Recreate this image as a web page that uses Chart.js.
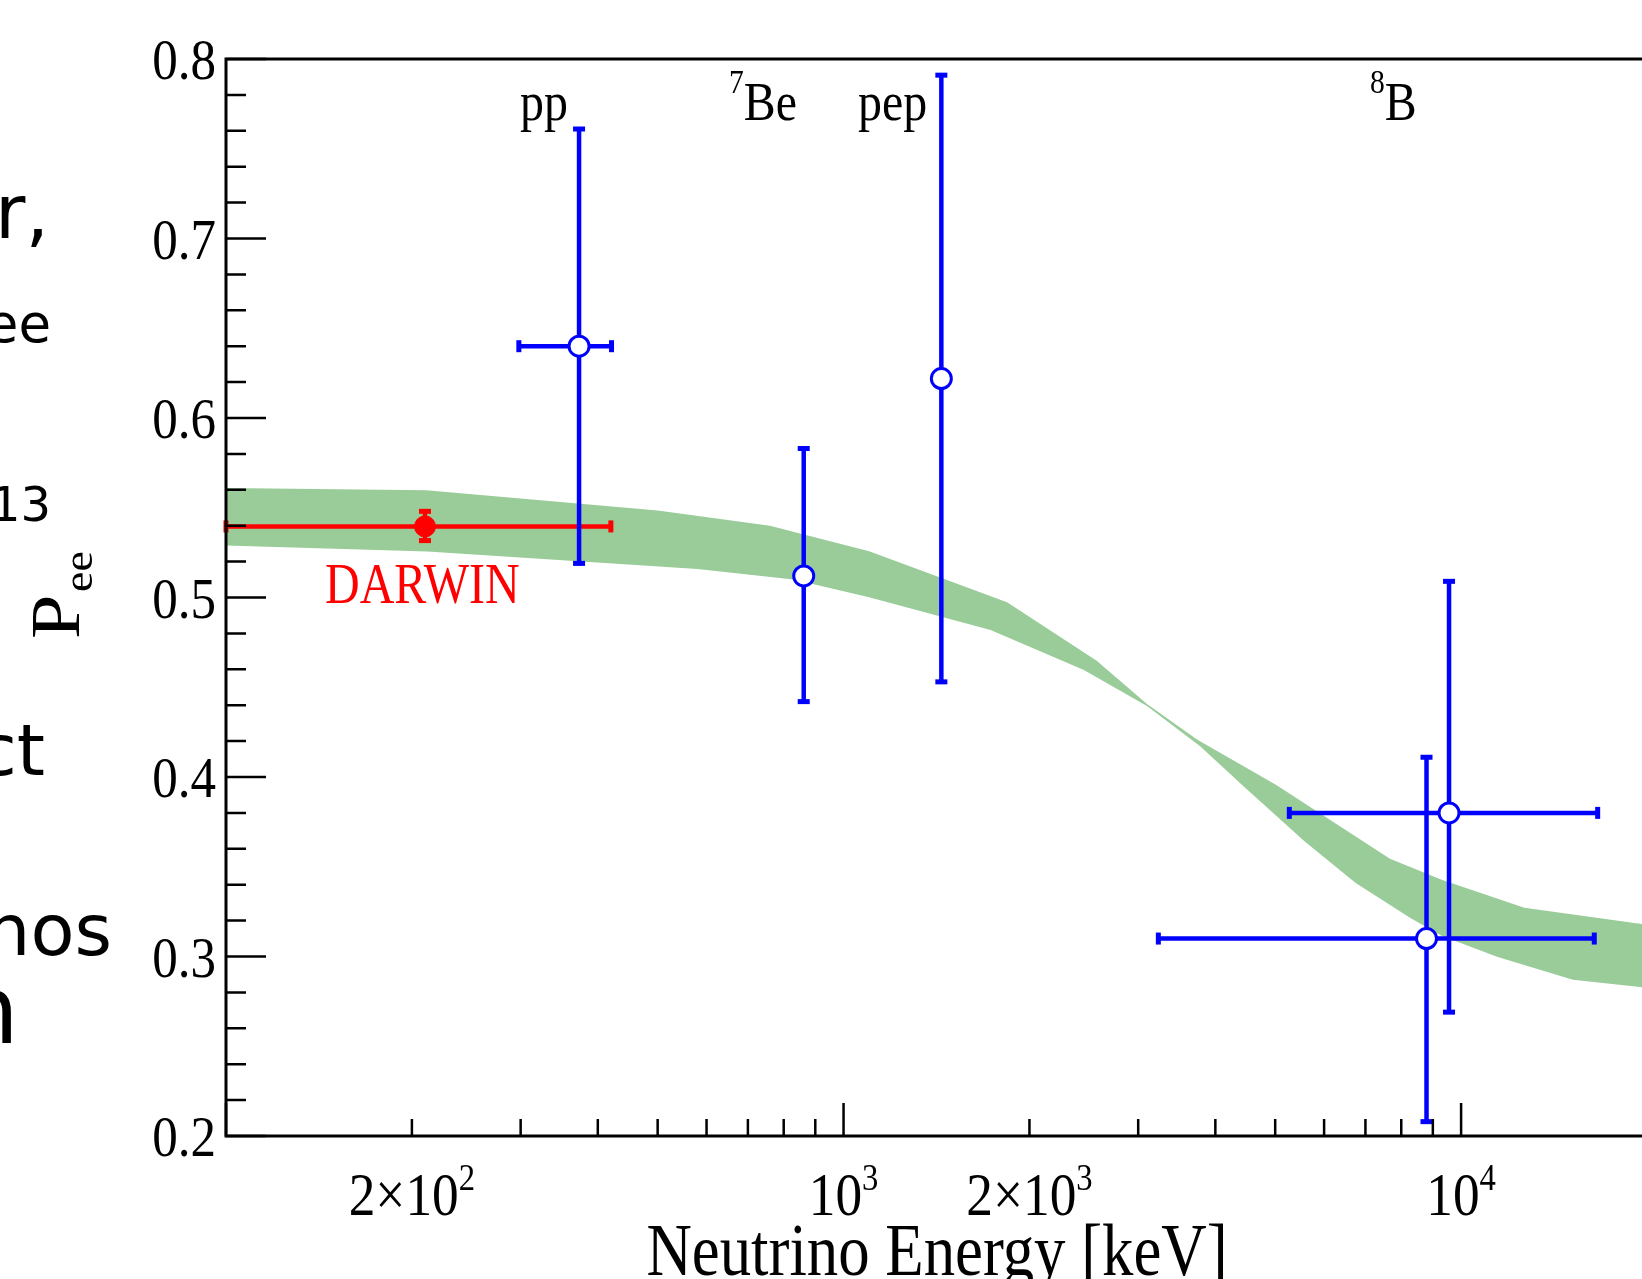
<!DOCTYPE html>
<html>
<head>
<meta charset="utf-8">
<script src="https://cdn.jsdelivr.net/npm/chart.js@4.4.1/dist/chart.umd.min.js"></script>
<style>
  html, body { margin: 0; padding: 0; background: #fff; overflow: hidden; width: 1642px; height: 1279px; }
  #c { position: absolute; left: 0; top: 0; }
</style>
</head>
<body>
<canvas id="c" width="1660" height="1279" style="width:1660px;height:1279px"></canvas>
<script>
// ---------------- data ----------------
// LMA prediction band (edges)
const bandUpperE = [100, 211, 500, 760, 1100, 1840, 2570, 3100, 3730, 5020, 5780, 7670, 9300, 12660, 20000];
const bandUpperP = [0.561, 0.5597, 0.5485, 0.540, 0.5257, 0.4973, 0.4648, 0.4406, 0.421, 0.3956, 0.3819, 0.3545, 0.3428, 0.3271, 0.3177];
const bandLowerE = [100, 212, 580, 830, 1100, 1730, 2450, 3100, 3780, 4420, 5570, 6750, 8290, 9300, 11430, 15170, 20000];
const bandLowerP = [0.529, 0.5256, 0.5159, 0.510, 0.5001, 0.4819, 0.4596, 0.4396, 0.4171, 0.3956, 0.3643, 0.3409, 0.3213, 0.3115, 0.2998, 0.2871, 0.2826];

// measurements (blue)
const measNames = ['pp', '7Be', 'pep', '8B', '8B'];
const measE   = [373, 862, 1440, 9560, 8790];
const measP   = [0.640, 0.512, 0.622, 0.380, 0.310];
const measPlo = [0.519, 0.442, 0.453, 0.269, 0.208];
const measPhi = [0.761, 0.583, 0.791, 0.509, 0.411];
const measElo = [298, null, null, 5270, 3234];
const measEhi = [421, null, null, 16640, 16430];

// DARWIN projection (red)
const darwinE   = [210];
const darwinP   = [0.5396];
const darwinPlo = [0.5317];
const darwinPhi = [0.548];
const darwinElo = [100];
const darwinEhi = [420];

// axes
const yTickValues = [0.2, 0.3, 0.4, 0.5, 0.6, 0.7, 0.8];
const yTickLabels = ['0.2', '0.3', '0.4', '0.5', '0.6', '0.7', '0.8'];
const xTickValues = [200, 1000, 2000, 10000];
const xTickBase   = ['2\u00d710', '10', '2\u00d710', '10'];
const xTickExp    = ['2', '3', '3', '4'];
const xAxisTitle = 'Neutrino Energy [keV]';

// source labels
const srcLabels = [
  { sup: '',  base: 'pp',  x: 520 },
  { sup: '7', base: 'Be',  x: 729 },
  { sup: '',  base: 'pep', x: 858 },
  { sup: '8', base: 'B',   x: 1370 }
];

// fragments of the slide text behind the figure
const slideText = [
  { t: 'r,',  size: 74, right: 49,  base: 238 },
  { t: 'ee',  size: 53, right: 51,  base: 342 },
  { t: '13',  size: 48, right: 51,  base: 521 },
  { t: 'ct',  size: 72, right: 45,  base: 775 },
  { t: 'nos', size: 72, right: 112, base: 955 },
  { t: 'n',   size: 95, right: 19,  base: 1043 }
];

const SERIF = '"Liberation Serif", "Times New Roman", serif';
const BLUE = '#0000ff';
const RED = '#ff0000';

function pts(xs, ys) { return xs.map((x, i) => ({ x: x, y: ys[i] })); }

function ctext(ctx, str, x, y, size, align, sx, color) {
  ctx.save();
  ctx.font = size + 'px ' + SERIF;
  ctx.fillStyle = color || '#000';
  ctx.textBaseline = 'alphabetic';
  ctx.textAlign = align;
  ctx.translate(x, y);
  ctx.scale(sx, 1);
  ctx.fillText(str, 0, 0);
  ctx.restore();
}
function twidth(ctx, str, size) {
  ctx.save();
  ctx.font = size + 'px ' + SERIF;
  const w = ctx.measureText(str).width;
  ctx.restore();
  return w;
}

function drawErrorBars(ctx, xs, ys, E, P, Elo, Ehi, Plo, Phi, color) {
  ctx.save();
  ctx.strokeStyle = color;
  ctx.fillStyle = color;
  ctx.lineWidth = 4.5;
  ctx.lineCap = 'butt';
  for (let i = 0; i < E.length; i++) {
    const px = xs.getPixelForValue(E[i]);
    const py = ys.getPixelForValue(P[i]);
    if (Plo[i] != null) {
      const y1 = ys.getPixelForValue(Plo[i]), y2 = ys.getPixelForValue(Phi[i]);
      ctx.beginPath(); ctx.moveTo(px, y1); ctx.lineTo(px, y2); ctx.stroke();
      ctx.fillRect(px - 6, y1 - 2.5, 12, 5);
      ctx.fillRect(px - 6, y2 - 2.5, 12, 5);
    }
    if (Elo[i] != null) {
      const x1 = xs.getPixelForValue(Elo[i]), x2 = xs.getPixelForValue(Ehi[i]);
      ctx.beginPath(); ctx.moveTo(x1, py); ctx.lineTo(x2, py); ctx.stroke();
      ctx.fillRect(x1 - 2.5, py - 6, 5, 12);
      ctx.fillRect(x2 - 2.5, py - 6, 5, 12);
    }
  }
  ctx.restore();
}

const decorPlugin = {
  id: 'decor',
  beforeDatasetDraw(chart, args) {
    if (args.index !== 2) return;
    const ctx = chart.ctx, xs = chart.scales.x, ys = chart.scales.y;
    drawErrorBars(ctx, xs, ys, darwinE, darwinP, darwinElo, darwinEhi, darwinPlo, darwinPhi, RED);
    drawErrorBars(ctx, xs, ys, measE, measP, measElo, measEhi, measPlo, measPhi, BLUE);
  },
  afterDraw(chart) {
    const ctx = chart.ctx, xs = chart.scales.x, ys = chart.scales.y, a = chart.chartArea;
    ctx.save();
    // frame
    ctx.strokeStyle = '#000';
    ctx.lineWidth = 3;
    ctx.strokeRect(a.left, a.top, a.right - a.left, a.bottom - a.top);
    // y ticks
    ctx.lineWidth = 2.5;
    ctx.beginPath();
    for (let k = 0; k <= 30; k++) {
      const v = 0.2 + k * 0.02;
      const py = ys.getPixelForValue(v);
      const len = (k % 5 === 0) ? 40 : 20;
      ctx.moveTo(a.left, py); ctx.lineTo(a.left + len, py);
    }
    // x ticks
    [100, 1000, 10000].forEach(dec => {
      for (let m = 1; m <= 9; m++) {
        const v = m * dec;
        if (v > 20000) continue;
        const px = xs.getPixelForValue(v);
        const len = (m === 1) ? 33 : 17;
        ctx.moveTo(px, a.bottom); ctx.lineTo(px, a.bottom - len);
      }
    });
    ctx.stroke();
    ctx.restore();

    // y tick labels
    yTickValues.forEach((v, i) => {
      ctext(ctx, yTickLabels[i], 216, ys.getPixelForValue(v) + 20, 58, 'right', 0.88);
    });
    // x tick labels with exponents
    const sx = 0.86, bSize = 62, eSize = 38;
    xTickValues.forEach((v, i) => {
      const wb = twidth(ctx, xTickBase[i], bSize) * sx;
      const we = twidth(ctx, xTickExp[i], eSize) * sx;
      const left = xs.getPixelForValue(v) - (wb + we) / 2;
      ctext(ctx, xTickBase[i], left, 1215, bSize, 'left', sx);
      ctext(ctx, xTickExp[i], left + wb, 1190, eSize, 'left', sx);
    });
    // x axis title
    ctext(ctx, xAxisTitle, 937, 1275, 73, 'center', 0.86);

    // y axis title P_ee (rotated)
    ctx.save();
    ctx.fillStyle = '#000';
    ctx.translate(78.5, 639);
    ctx.rotate(-Math.PI / 2);
    ctx.scale(1, 0.88);
    ctx.textAlign = 'left';
    ctx.font = '80px ' + SERIF;
    ctx.fillText('P', 0, 0);
    ctx.font = '46px ' + SERIF;
    ctx.fillText('ee', 47, 15);
    ctx.restore();

    // source labels
    srcLabels.forEach(l => {
      let x = l.x;
      if (l.sup) {
        ctext(ctx, l.sup, x, 93, 34, 'left', 0.87);
        x += twidth(ctx, l.sup, 34) * 0.87;
      }
      ctext(ctx, l.base, x, 120, 55, 'left', 0.87);
    });
    // DARWIN label
    ctext(ctx, 'DARWIN', 325, 603, 56, 'left', 0.857, RED);

    // slide text fragments
    ctx.save();
    ctx.fillStyle = '#000';
    ctx.textAlign = 'right';
    ctx.textBaseline = 'alphabetic';
    slideText.forEach(s => {
      ctx.font = s.size + 'px "DejaVu Sans", Verdana, sans-serif';
      ctx.fillText(s.t, s.right, s.base);
    });
    ctx.restore();
  }
};

new Chart(document.getElementById('c'), {
  type: 'line',
  data: {
    datasets: [
      { label: 'LMA upper', data: pts(bandUpperE, bandUpperP), borderWidth: 0, borderColor: 'rgba(0,0,0,0)',
        backgroundColor: '#99cc99', pointRadius: 0, fill: '+1', tension: 0, order: 11 },
      { label: 'LMA lower', data: pts(bandLowerE, bandLowerP), borderWidth: 0, borderColor: 'rgba(0,0,0,0)',
        backgroundColor: '#99cc99', pointRadius: 0, fill: false, tension: 0, order: 10 },
      { label: 'Measurements', data: pts(measE, measP), showLine: false, pointRadius: 10,
        pointBackgroundColor: '#ffffff', pointBorderColor: BLUE, pointBorderWidth: 3, order: 1 },
      { label: 'DARWIN', data: pts(darwinE, darwinP), showLine: false, pointRadius: 10.5,
        pointBackgroundColor: RED, pointBorderColor: RED, pointBorderWidth: 1, order: 0 }
    ]
  },
  options: {
    responsive: false,
    animation: false,
    devicePixelRatio: 1,
    layout: { padding: { left: 226, top: 59, right: 9, bottom: 143 } },
    scales: {
      x: { type: 'logarithmic', min: 100, max: 20000, display: false },
      y: { type: 'linear', min: 0.2, max: 0.8, display: false }
    },
    plugins: { legend: { display: false }, tooltip: { enabled: false } },
    events: []
  },
  plugins: [decorPlugin]
});
</script>
</body>
</html>
